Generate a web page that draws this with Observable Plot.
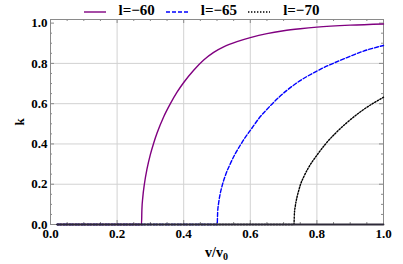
<!DOCTYPE html>
<html><head><meta charset="utf-8">
<script src="https://cdn.jsdelivr.net/npm/d3@7"></script>
<script src="https://cdn.jsdelivr.net/npm/@observablehq/plot@0.6"></script>
<style>
html,body{margin:0;padding:0;background:#fff;}
#wrap{position:relative;width:403px;height:264px;font-family:"Liberation Serif","Times New Roman",serif;font-weight:bold;color:#000;}
#chart svg text{font-family:"Liberation Serif","Times New Roman",serif !important;font-weight:bold !important;}
#legend{position:absolute;top:0;left:0;width:403px;height:20px;display:flex;justify-content:center;align-items:center;font-size:15px;line-height:17px;}
.item{display:flex;align-items:center;margin:0 5.5px;}
.item svg{margin-right:13px;position:relative;top:2px;}
#xlabel{position:absolute;left:50px;width:333px;top:245px;text-align:center;font-size:14px;line-height:16px;}
#xlabel sub{font-size:10px;line-height:0;vertical-align:-3px;}
</style></head>
<body><div id="wrap"><div id="chart"></div><div id="legend"></div><div id="xlabel">v/v<sub>0</sub></div></div>
<script>
// series l = -60
const v60 = [0.02, 0.2733, 0.2745, 0.277, 0.282, 0.29, 0.30, 0.31, 0.32, 0.34, 0.36, 0.38, 0.40, 0.43, 0.46, 0.49, 0.52, 0.56, 0.60, 0.65, 0.70, 0.75, 0.80, 0.90, 1.00];
const k60 = [0, 0, 0.075, 0.132, 0.201, 0.277, 0.348, 0.405, 0.454, 0.535, 0.60, 0.657, 0.705, 0.766, 0.817, 0.855, 0.882, 0.908, 0.928, 0.948, 0.962, 0.972, 0.98, 0.99, 0.996];
// series l = -65
const v65 = [0.02, 0.5005, 0.502, 0.505, 0.51, 0.515, 0.525, 0.54, 0.555, 0.57, 0.585, 0.60, 0.625, 0.661, 0.686, 0.736, 0.80, 0.886, 0.94, 1.00];
const k65 = [0, 0, 0.062, 0.107, 0.156, 0.19, 0.243, 0.302, 0.352, 0.394, 0.433, 0.467, 0.525, 0.591, 0.632, 0.699, 0.762, 0.826, 0.861, 0.889];
// series l = -70
const v70 = [0.02, 0.731, 0.7325, 0.735, 0.74, 0.745, 0.751, 0.76, 0.775, 0.80, 0.826, 0.855, 0.886, 0.936, 1.00];
const k70 = [0, 0, 0.055, 0.09, 0.134, 0.166, 0.20, 0.235, 0.283, 0.344, 0.40, 0.452, 0.50, 0.566, 0.632];
// k = 0 branch shared by all three series (overlapping)
const vZero = [0.02, 1.00];
const kZero = [0, 0];

const seriesNames = ["l=\u221260", "l=\u221265", "l=\u221270"];
const seriesColors = ["#800080", "#0000ff", "#000000"];
const seriesDash = [null, "4,2", "1.4,1.6"];

const xTicks = [0, 0.2, 0.4, 0.6, 0.8, 1.0];
const yTicks = [0, 0.2, 0.4, 0.6, 0.8, 1.0];
const xMinor = [0.05,0.1,0.15,0.25,0.3,0.35,0.45,0.5,0.55,0.65,0.7,0.75,0.85,0.9,0.95];
const yMinor = [0.05,0.1,0.15,0.25,0.3,0.35,0.45,0.5,0.55,0.65,0.7,0.75,0.85,0.9,0.95];

const W = 403, H = 264, mL = 50, mR = 20, mT = 19, mB = 40;
const iw = W - mL - mR, ih = H - mT - mB;
const fmt = d3.format(".1f");
const serif = "Liberation Serif";

const table = (vs, ks, l) => vs.map((v, i) => ({v, k: ks[i], l}));
const d60 = table(v60, k60, seriesNames[0]);
const d65 = table(v65, k65, seriesNames[1]);
const d70 = table(v70, k70, seriesNames[2]);
const dZero = table(vZero, kZero, "all");
const frameColor = "#8a8a8a";

const chart = Plot.plot({
  width: W, height: H,
  marginLeft: mL, marginRight: mR, marginTop: mT, marginBottom: mB,
  style: "font-family:'Liberation Serif',serif;font-size:13px;font-weight:bold;color:#000;background:transparent;",
  x: {domain: [0, 1]},
  y: {domain: [0, 1.018]},
  marks: [
    Plot.gridX(xTicks.slice(1, -1), {stroke: "#d2d2d2", strokeOpacity: 1}),
    Plot.gridY(yTicks.slice(1, -1), {stroke: "#d2d2d2", strokeOpacity: 1}),
    Plot.ruleX(xTicks, {stroke: frameColor, insetTop: ih - 4}),
    Plot.ruleX(xMinor, {stroke: frameColor, insetTop: ih - 2}),
    Plot.ruleX(xTicks, {stroke: frameColor, insetBottom: ih - 4}),
    Plot.ruleX(xMinor, {stroke: frameColor, insetBottom: ih - 2}),
    Plot.ruleY(yTicks, {stroke: frameColor, insetRight: iw - 4}),
    Plot.ruleY(yMinor, {stroke: frameColor, insetRight: iw - 2}),
    Plot.ruleY(yTicks, {stroke: frameColor, insetLeft: iw - 4}),
    Plot.ruleY(yMinor, {stroke: frameColor, insetLeft: iw - 2}),
    Plot.frame({stroke: frameColor}),
    Plot.axisX(xTicks, {tickSize: 0, tickPadding: 4, tickFormat: fmt, label: null, fontFamily: serif, fontWeight: "bold", fontSize: 13}),
    Plot.axisY(yTicks, {tickSize: 0, tickPadding: 3, tickFormat: fmt, label: "k", labelAnchor: "center", labelArrow: "none", labelOffset: 36, fontFamily: serif, fontWeight: "bold", fontSize: 13}),
    Plot.line(d60, {x: "v", y: "k", stroke: seriesColors[0], strokeWidth: 1.4, curve: "monotone-x"}),
    Plot.line(d65, {x: "v", y: "k", stroke: seriesColors[1], strokeWidth: 1.4, strokeDasharray: seriesDash[1], curve: "monotone-x"}),
    Plot.line(d70, {x: "v", y: "k", stroke: seriesColors[2], strokeWidth: 1.4, strokeDasharray: seriesDash[2], curve: "monotone-x"}),
    Plot.line(dZero, {x: "v", y: "k", stroke: "#2e2a38", strokeWidth: 1.8})
  ]
});
chart.style.setProperty("font-family", "'Liberation Serif', serif");
document.getElementById("chart").appendChild(chart);

const legend = document.getElementById("legend");
seriesNames.forEach((name, i) => {
  const item = document.createElement("div");
  item.className = "item";
  const dash = seriesDash[i] ? ` stroke-dasharray="${seriesDash[i]}"` : "";
  item.innerHTML = `<svg width="22" height="6"><line x1="0" x2="22" y1="3" y2="3" stroke="${seriesColors[i]}" stroke-width="1.4"${dash}/></svg><span>${name}</span>`;
  legend.appendChild(item);
});
</script>
</body></html>
